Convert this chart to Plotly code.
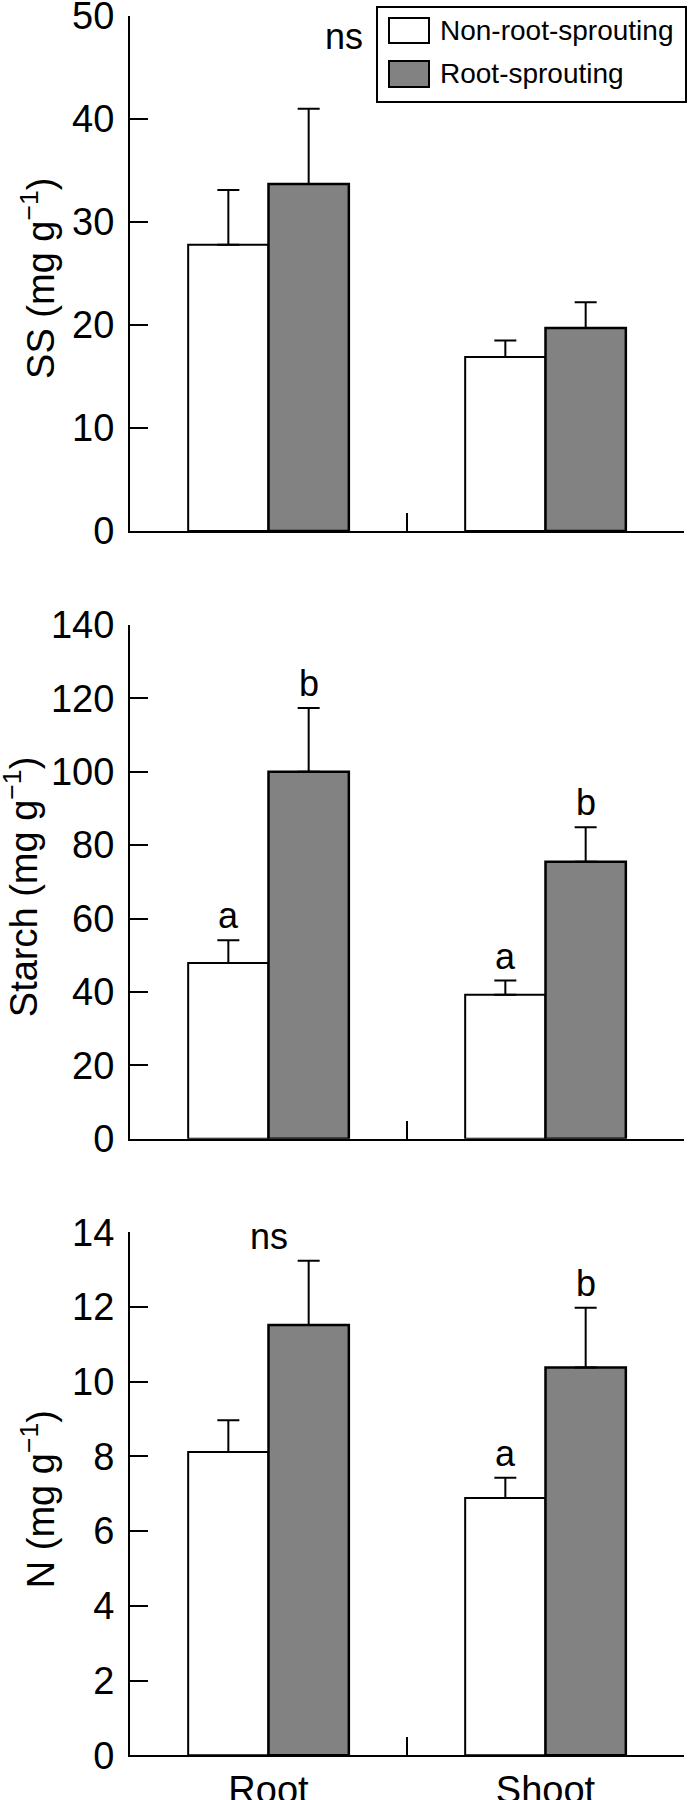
import plotly.graph_objects as go
from plotly.subplots import make_subplots

tissues = ['Root', 'Shoot']
groups = ['Non-root-sprouting', 'Root-sprouting']

# soluble sugars
ss_non = [27.8, 16.9]
ss_non_err = [5.3, 1.6]
ss_rs = [33.7, 19.7]
ss_rs_err = [7.3, 2.5]

# starch
starch_non = [47.9, 39.2]
starch_non_err = [6.2, 3.9]
starch_rs = [100.0, 75.5]
starch_rs_err = [17.4, 9.4]

# nitrogen
n_non = [8.12, 6.89]
n_non_err = [0.85, 0.54]
n_rs = [11.52, 10.38]
n_rs_err = [1.72, 1.60]

y_titles = ['SS (mg g<sup>−1</sup>)', 'Starch (mg g<sup>−1</sup>)', 'N (mg g<sup>−1</sup>)']
y_max = [50, 140, 14]
y_step = [10, 20, 2]

# significance letters: (row, tissue, xshift, y, text)
sig_labels = [
    (1, 'Root', 75, 45.6, 'ns'),
    (2, 'Root', -40, 54.1, 'a'),
    (2, 'Root', 40, 117.4, 'b'),
    (2, 'Shoot', -40, 43.1, 'a'),
    (2, 'Shoot', 40, 84.9, 'b'),
    (3, 'Root', 0, 13.24, 'ns'),
    (3, 'Shoot', -40, 7.43, 'a'),
    (3, 'Shoot', 40, 11.98, 'b'),
]

W, H = 690, 1800
ML, MR = 130, 6
PW = W - ML - MR
FONT = 'Liberation Sans, Arial, Helvetica, sans-serif'
GREY = '#828282'

panels = [
    (ss_non, ss_non_err, ss_rs, ss_rs_err),
    (starch_non, starch_non_err, starch_rs, starch_rs_err),
    (n_non, n_non_err, n_rs, n_rs_err),
]
domains = [[0.7050, 0.9911], [0.3674, 0.6528], [0.0248, 0.3154]]
title_x = [38, 21, 38]  # px from the left edge

fig = make_subplots(rows=3, cols=1)

for i, (a, ae, b, be) in enumerate(panels):
    r = i + 1
    fig.add_trace(go.Bar(
        x=tissues, y=a, name=groups[0], showlegend=False,
        marker=dict(color='white', line=dict(color='black', width=2)),
        error_y=dict(type='data', array=ae, arrayminus=[0, 0], symmetric=False,
                     color='black', thickness=2, width=11),
    ), row=r, col=1)
    fig.add_trace(go.Bar(
        x=tissues, y=b, name=groups[1], showlegend=False,
        marker=dict(color=GREY, line=dict(color='black', width=2.5)),
        error_y=dict(type='data', array=be, arrayminus=[0, 0], symmetric=False,
                     color='black', thickness=2, width=11),
    ), row=r, col=1)

    fig.update_xaxes(
        row=r, col=1, type='category', range=[-0.5, 1.5], tickson='boundaries',
        showline=True, linecolor='black', linewidth=2, showgrid=False,
        ticks='inside', ticklen=18, tickwidth=2, tickcolor='black',
        showticklabels=(r == 3), tickfont=dict(size=38, color='black', family=FONT),
        ticklabeloverflow='allow', automargin=False, domain=[0, 1],
    )
    fig.update_yaxes(
        row=r, col=1, range=[0, y_max[i]], dtick=y_step[i], tick0=0,
        showline=True, linecolor='black', linewidth=2, showgrid=False, zeroline=False,
        ticks='inside', ticklen=18, tickwidth=2, tickcolor='black',
        tickfont=dict(size=38, color='black', family=FONT), ticklabelstandoff=6,
        ticklabeloverflow='allow', automargin=False, domain=domains[i],
    )
    fig.add_annotation(
        text=y_titles[i], xref='paper', yref='paper', textangle=-90,
        x=(title_x[i] - ML) / PW, y=sum(domains[i]) / 2 - 0.003,
        xanchor='center', yanchor='middle', showarrow=False,
        font=dict(size=38, color='black', family=FONT),
    )

for r, t, xs, yv, txt in sig_labels:
    xr = 'x' if r == 1 else 'x%d' % r
    yr = 'y' if r == 1 else 'y%d' % r
    fig.add_annotation(
        text=txt, x=t, y=yv, xref=xr, yref=yr, xshift=xs, yshift=2,
        xanchor='center', yanchor='bottom', showarrow=False,
        font=dict(size=36, color='black', family=FONT),
    )


# legend drawn by hand, pixel positions converted to paper
def px(x):
    return (x - ML) / PW


def py(y):
    return 1 - y / H


fig.add_shape(type='rect', xref='paper', yref='paper',
              x0=px(377), x1=px(686), y0=py(102), y1=py(7),
              line=dict(color='black', width=2), fillcolor='white')
legend_fill = ['white', GREY]
legend_rows = [(18, 43), (61, 87)]
for (y0, y1), fc, name in zip(legend_rows, legend_fill, groups):
    fig.add_shape(type='rect', xref='paper', yref='paper',
                  x0=px(389), x1=px(429), y0=py(y1), y1=py(y0),
                  line=dict(color='black', width=2), fillcolor=fc)
    fig.add_annotation(text=name, xref='paper', yref='paper',
                       x=px(438), y=py((y0 + y1) / 2), xanchor='left', yanchor='middle',
                       showarrow=False, font=dict(size=28, color='black', family=FONT))

fig.update_layout(
    width=W, height=H, barmode='group', bargap=0.42, bargroupgap=0,
    margin=dict(l=ML, r=MR, t=0, b=0),
    plot_bgcolor='white', paper_bgcolor='white',
    font=dict(family=FONT, color='black'),
    showlegend=False,
)

# drop the default page margin so the figure sits at the top-left corner
fig.write_html('out.html', config={'displayModeBar': False},
               post_script="document.body.style.margin = '0';")
